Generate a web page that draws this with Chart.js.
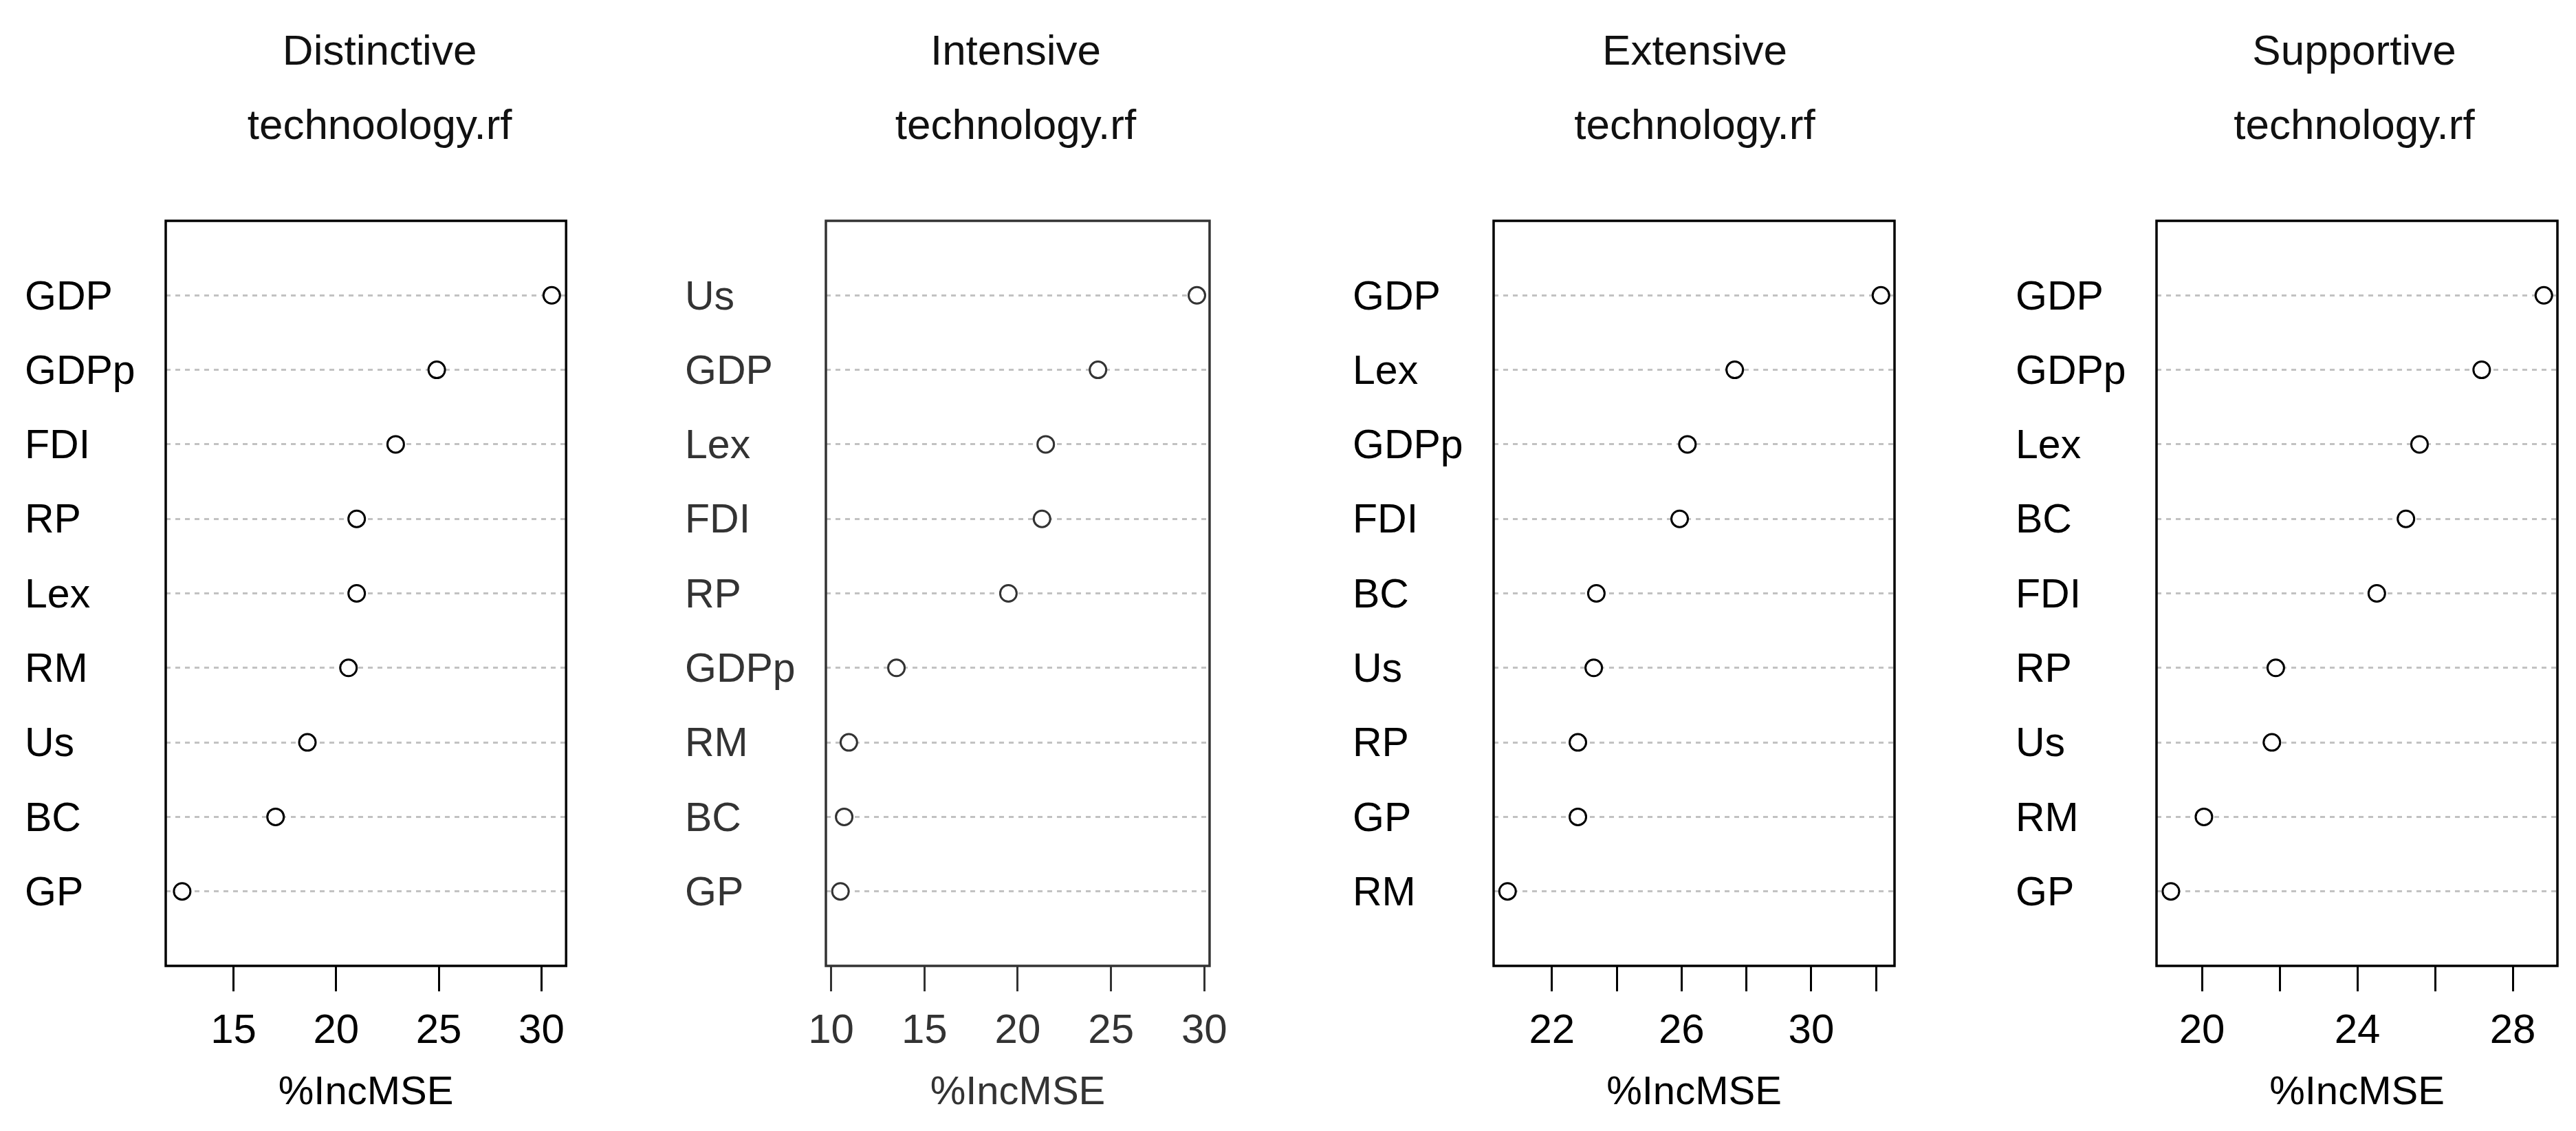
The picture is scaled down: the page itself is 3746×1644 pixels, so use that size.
<!DOCTYPE html>
<html>
<head>
<meta charset="utf-8">
<script src="https://cdn.jsdelivr.net/npm/chart.js@4.4.1/dist/chart.umd.min.js"></script>
<style>
  html, body { margin: 0; padding: 0; background: #fff; }
  #wrap { position: relative; width: 3746px; height: 1644px; overflow: hidden; background: #fff; }
  #wrap canvas { position: absolute; top: 0; }
</style>
</head>
<body>
<div id="wrap"></div>
<script>
/* ── data (%IncMSE, random forest) ───────── */
const distinctiveLabels = ['GDP', 'GDPp', 'FDI', 'RP', 'Lex', 'RM', 'Us', 'BC', 'GP'];
const distinctiveValues = [30.5, 24.9, 22.9, 21.0, 21.0, 20.6, 18.6, 17.05, 12.5];
const distinctiveTicks  = [15, 20, 25, 30];
const distinctiveShown  = [15, 20, 25, 30];
const distinctiveRange  = [11.7, 31.2];

const intensiveLabels = ['Us', 'GDP', 'Lex', 'FDI', 'RP', 'GDPp', 'RM', 'BC', 'GP'];
const intensiveValues = [29.6, 24.3, 21.5, 21.3, 19.5, 13.5, 10.95, 10.7, 10.5];
const intensiveTicks  = [10, 15, 20, 25, 30];
const intensiveShown  = [10, 15, 20, 25, 30];
const intensiveRange  = [9.72, 30.28];

const extensiveLabels = ['GDP', 'Lex', 'GDPp', 'FDI', 'BC', 'Us', 'RP', 'GP', 'RM'];
const extensiveValues = [32.15, 27.64, 26.18, 25.94, 23.37, 23.29, 22.8, 22.8, 20.63];
const extensiveTicks  = [22, 24, 26, 28, 30, 32];
const extensiveShown  = [22, 26, 30];
const extensiveRange  = [20.2, 32.57];

const supportiveLabels = ['GDP', 'GDPp', 'Lex', 'BC', 'FDI', 'RP', 'Us', 'RM', 'GP'];
const supportiveValues = [28.8, 27.2, 25.6, 25.25, 24.5, 21.9, 21.8, 20.05, 19.2];
const supportiveTicks  = [20, 22, 24, 26, 28];
const supportiveShown  = [20, 24, 28];
const supportiveRange  = [18.83, 29.15];

const xTitle = '%IncMSE';

/* ── layout of the four panels (pixel frame of each plot box) ─────────── */
const FONT = "'Liberation Sans', Arial, sans-serif";
const LABEL_W = 205;     // room for the row labels left of the box
const PANEL_TOP = 321;
const PANEL_BOTTOM = 1404;
const H = 1644;

const panels = [
  { title: ['Distinctive', 'technoology.rf'], labels: distinctiveLabels, values: distinctiveValues,
    ticks: distinctiveTicks, shown: distinctiveShown, range: distinctiveRange,
    left: 241, right: 824, titleShift: 20, ink: '#000' },
  { title: ['Intensive', 'technology.rf'], labels: intensiveLabels, values: intensiveValues,
    ticks: intensiveTicks, shown: intensiveShown, range: intensiveRange,
    left: 1201, right: 1787, titleShift: -3, ink: '#333' },
  { title: ['Extensive', 'technology.rf'], labels: extensiveLabels, values: extensiveValues,
    ticks: extensiveTicks, shown: extensiveShown, range: extensiveRange,
    left: 2172, right: 2755, titleShift: 1, ink: '#000' },
  { title: ['Supportive', 'technology.rf'], labels: supportiveLabels, values: supportiveValues,
    ticks: supportiveTicks, shown: supportiveShown, range: supportiveRange,
    left: 3136, right: 3719, titleShift: -4, ink: '#000' },
];

/* box round the plot region + the two-line title above it */
const framePlugin = {
  id: 'rFrame',
  afterDraw(chart, args, opts) {
    const { ctx, chartArea: a } = chart;
    ctx.save();
    ctx.strokeStyle = opts.ink;
    ctx.lineWidth = 3.5;
    ctx.strokeRect(a.left, a.top, a.right - a.left, a.bottom - a.top);
    ctx.fillStyle = '#111';
    ctx.font = `62px ${FONT}`;
    ctx.textAlign = 'center';
    ctx.textBaseline = 'alphabetic';
    const cx = (a.left + a.right) / 2 + opts.shift;
    ctx.fillText(opts.title[0], cx, 94);
    ctx.fillText(opts.title[1], cx, 202);
    ctx.restore();
  },
};

const wrap = document.getElementById('wrap');

panels.forEach(p => {
  const pad = 20;
  const cw = LABEL_W + (p.right - p.left) + pad * 2;
  const canvas = document.createElement('canvas');
  canvas.width = cw;
  canvas.height = H;
  canvas.style.width = cw + 'px';
  canvas.style.height = H + 'px';
  canvas.style.left = (p.left - LABEL_W - pad) + 'px';
  wrap.appendChild(canvas);

  new Chart(canvas.getContext('2d'), {
    type: 'scatter',
    data: {
      datasets: [{
        data: p.values.map((v, i) => ({ x: v, y: i + 1 })),
        pointStyle: 'circle',
        pointRadius: 12,
        pointHoverRadius: 12,
        borderWidth: 3,
        borderColor: p.ink,
        backgroundColor: '#fff',
      }],
    },
    options: {
      responsive: false,
      animation: false,
      devicePixelRatio: 1,
      layout: { padding: { left: pad, right: pad, top: PANEL_TOP, bottom: 0 } },
      plugins: {
        legend: { display: false },
        tooltip: { enabled: false },
        title: { display: false },
        rFrame: { ink: p.ink, title: p.title, shift: p.titleShift },
      },
      scales: {
        x: {
          type: 'linear',
          min: p.range[0],
          max: p.range[1],
          afterBuildTicks: (s) => { s.ticks = p.ticks.map(v => ({ value: v })); },
          afterFit: (s) => { s.height = H - PANEL_BOTTOM; },
          ticks: {
            autoSkip: false,
            maxRotation: 0,
            padding: 22,
            color: p.ink,
            font: { family: FONT, size: 60 },
            callback: (v) => (p.shown.includes(v) ? String(v) : ''),
          },
          grid: {
            drawOnChartArea: false,
            drawTicks: true,
            tickLength: 37,
            tickWidth: 3,
            tickColor: p.ink,
          },
          border: { display: false },
          title: {
            display: true,
            text: xTitle,
            color: p.ink,
            font: { family: FONT, size: 58 },
            padding: { top: 0, bottom: 20 },
          },
        },
        y: {
          type: 'linear',
          min: 0,
          max: 10,
          reverse: true,
          afterBuildTicks: (s) => { s.ticks = p.labels.map((_, i) => ({ value: i + 1 })); },
          afterFit: (s) => { s.width = LABEL_W; },
          ticks: {
            autoSkip: false,
            crossAlign: 'far',
            labelOffset: 4,
            color: p.ink,
            font: { family: FONT, size: 59 },
            callback: (v) => p.labels[v - 1],
          },
          grid: {
            color: '#c2c2c2',
            lineWidth: 3,
            drawTicks: false,
          },
          border: { display: false, dash: [7, 7] },
        },
      },
    },
    plugins: [framePlugin],
  });
});
</script>
</body>
</html>
